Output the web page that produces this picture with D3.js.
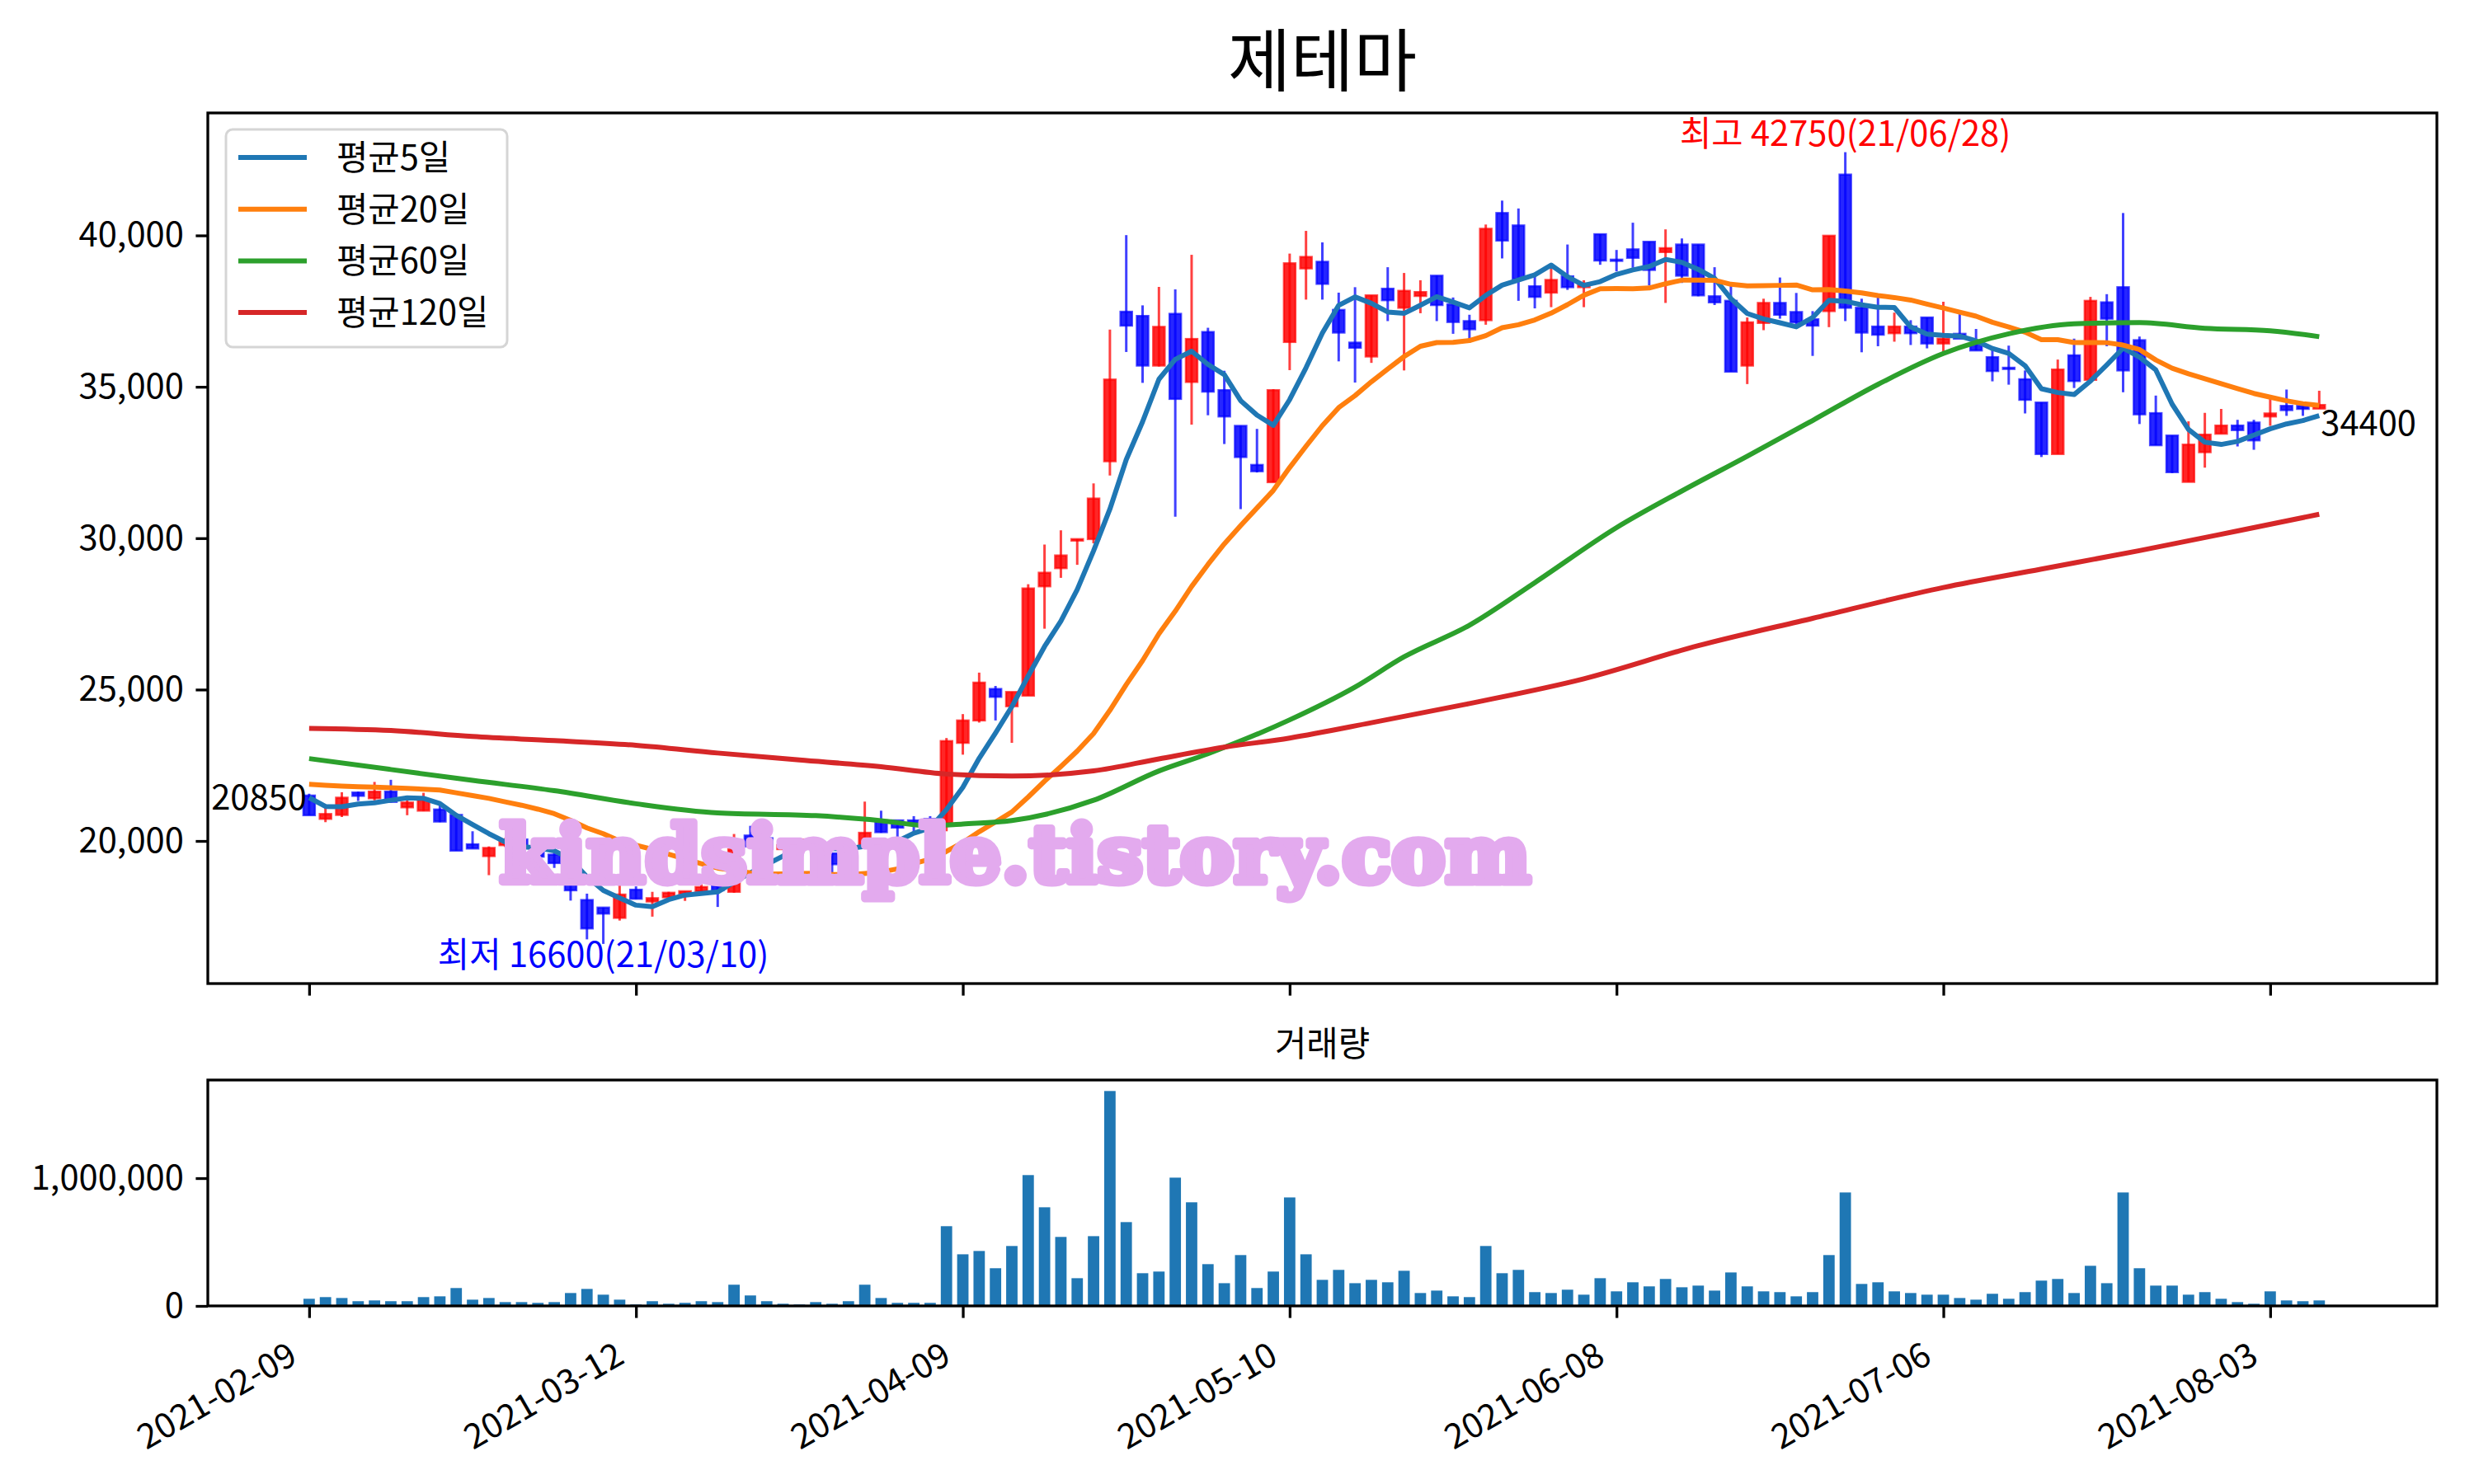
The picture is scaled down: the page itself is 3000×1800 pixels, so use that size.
<!DOCTYPE html>
<html>
<head>
<meta charset="utf-8">
<script src="https://cdn.jsdelivr.net/npm/d3@7"></script>
<style>
  body { margin: 0; background: #fff; }
  text { font-family: "Noto Sans CJK KR", "Noto Sans", sans-serif; }
</style>
</head>
<body>
<div id="chart"></div>
<script>

/****************************** data **********************************/

var opens = [21500,20730,20860,21600,21410,21630,21110,21000,21040,20860,
  19890,19500,19860,20050,19800,19550,18590,18050,17800,17460,
  18390,18000,18140,18260,18340,18520,18320,20180,20090,19730,
  19770,20050,19590,19300,19770,20680,20680,20680,20730,20590,
  23240,23980,25020,24450,24800,28410,29010,29920,29970,32540,
  37480,37340,35700,37410,35160,36810,34890,33710,32420,31850,
  36480,38910,39130,37540,36460,36000,38240,37610,38000,38670,
  37720,37170,37200,40740,40330,38320,38110,38650,38290,40040,
  39200,39540,39790,39450,39700,39700,37990,37840,35700,37110,
  37770,37470,37230,37500,42010,37610,36990,36770,36990,37290,
  36430,36750,36430,35980,35630,35250,34480,32780,36040,35230,
  37790,38290,36540,34130,33390,31860,32840,33450,33720,33820,
  34020,34370,34370,34280];

var highs = [21560,21090,21610,21630,21950,22020,21360,21590,21180,20890,
  20320,19820,20100,20270,19850,19590,18730,18260,17800,18680,
  18500,18320,18320,18340,18730,18520,20230,20500,20140,19900,
  20100,20090,19600,19750,21300,21000,20680,20820,20820,23400,
  24190,25560,25120,24920,28480,29790,30260,29970,31810,36890,
  40010,37690,38300,38220,39360,36950,35530,33710,33610,34920,
  39400,40150,39770,38110,38290,38020,38950,38760,38520,38670,
  37950,37380,40360,41150,40890,38650,38900,39700,38520,40040,
  39520,40420,39790,40200,39900,39700,38950,38340,37290,37910,
  38610,38100,37500,39990,42750,37910,37970,37450,37200,37290,
  37810,37400,36910,36230,36360,35540,34480,35900,36590,37970,
  38060,40740,36660,34710,33390,33860,34140,34270,33910,33910,
  34610,34910,34480,34870];

var lows = [20850,20620,20790,21320,21340,21270,20850,20990,20620,19680,
  19750,18870,19800,19820,19400,19110,18030,16750,16600,17370,
  18080,17500,18140,18020,18280,17820,18290,19800,19700,19700,
  19750,19850,18960,19250,19730,20270,20020,20320,20550,20320,
  22850,23910,23980,23240,24800,27010,28690,29120,29830,32070,
  36150,35130,35670,30710,33750,34060,33110,30960,32170,31850,
  35550,37880,37880,35840,35140,35790,37170,35540,37430,37170,
  36750,36450,37050,39240,37840,37590,37630,38200,37630,39030,
  38810,38930,38350,37770,38430,37990,37700,35500,35090,36870,
  37250,37070,36020,36970,37170,36140,36340,36490,36380,36270,
  36160,36590,36200,35180,35070,34120,32680,32780,34960,35200,
  36340,34820,33770,33070,32150,31860,32330,33450,33030,32920,
  33710,34040,34040,34280];

var closes = [20850,20890,21430,21490,21630,21290,21270,21360,20640,19680,
  19750,19770,20000,19860,19480,19270,18370,17110,17600,18230,
  18090,18110,18290,18340,18480,18370,19720,19820,19730,19860,
  20050,19860,19230,19700,20270,20290,20440,20590,20550,23300,
  23980,25230,24760,24920,28340,28860,29430,29970,31310,35240,
  37020,35700,36980,34600,36580,34840,34020,32680,32210,34890,
  39080,39290,38400,36790,36290,38020,37860,38170,38130,37700,
  37140,36900,40220,39830,38560,37970,38530,38290,38410,39170,
  39170,39260,38860,39580,38670,38020,37790,35500,37130,37770,
  37380,37130,37020,39990,37610,36790,36720,36990,36770,36430,
  36590,36590,36200,35520,35610,34570,32780,35570,35190,37840,
  37250,35540,34090,33070,32180,33090,33420,33720,33570,33230,
  34120,34230,34270,34400];

var volumes = [56000,69000,62000,37000,43000,37000,37000,69000,75000,140000,
  49000,62000,30000,30000,24000,30000,101000,133000,88000,49000,
  11000,37000,17000,24000,37000,30000,166000,82000,37000,17000,
  11000,30000,17000,37000,166000,62000,24000,24000,24000,624000,
  404000,430000,295000,469000,1024000,772000,540000,217000,546000,1682000,
  656000,256000,269000,1004000,811000,327000,178000,398000,140000,269000,
  849000,404000,204000,282000,178000,204000,185000,275000,101000,120000,
  75000,69000,469000,256000,282000,108000,101000,127000,88000,217000,
  114000,185000,153000,211000,146000,159000,120000,262000,153000,114000,
  108000,75000,108000,398000,888000,172000,185000,114000,101000,88000,
  88000,62000,49000,95000,56000,108000,198000,211000,101000,314000,
  178000,888000,295000,159000,159000,88000,108000,56000,30000,17000,
  114000,43000,37000,43000];

// the first days of the short averages need history before 2021-02-09
var ma5Lead = [21430, 21140, 21130, 21220];
var ma20Lead = [21870,21840,21810,21790,21775,21760,21740,21710,21680,21590,
  21500,21407,21290,21180,21050,20900,20680,20430,20240];

// long averages, read at sample days
var ma60Idx = [0,5,10,15,20,25,31,35,38,40,43,48,52,55,60,64,67,71,75,80,84,88,92,96,100,104,108,112,116,120,123];
var ma60Val = [22720,22360,22000,21660,21230,20926,20835,20670,20500,20560,20675,21344,22313,22882,24000,
  25084,26082,27126,28533,30348,31560,32708,33888,35080,36100,36750,37080,37120,36930,36850,36656];
var ma120Idx = [0,5,10,15,20,25,30,35,39,43,48,52,56,60,65,71,78,85,92,100,106,112,118,123];
var ma120Val = [23720,23649,23449,23313,23160,22904,22677,22451,22210,22142,22313,22712,23096,23400,
  23904,24539,25356,26450,27353,28370,28980,29590,30240,30790];

var tickIdx = [0, 20, 40, 60, 80, 100, 120];
var tickLabels = ["2021-02-09","2021-03-12","2021-04-09","2021-05-10","2021-06-08","2021-07-06","2021-08-03"];
var priceTicks = [20000, 25000, 30000, 35000, 40000];
var volTicks = [0, 1000000];

var seriesNames = ["평균5일", "평균20일", "평균60일", "평균120일"];
var seriesColors = ["#1f77b4", "#ff7f0e", "#2ca02c", "#d62728"];

var chartTitle = "제테마";
var volTitle = "거래량";
var hiIdx = 94, hiLabel = "최고 42750(21/06/28)";
var loIdx = 18, loLabel = "최저 16600(21/03/10)";
var watermark = "kindsimple.tistory.com";

/****************************** layout **********************************/

var W = 3000, H = 1800;
var fs = 41.7;
var pAx = { left: 252, right: 2955, top: 137, bottom: 1193 };
var vAx = { left: 252, right: 2955, top: 1310, bottom: 1584 };

var svg = d3.select("#chart").append("svg")
  .attr("width", W).attr("height", H)
  .style("background", "#fff");

var x = d3.scaleLinear().domain([-6.2, 130.2]).range([pAx.left, pAx.right]);
var yP = d3.scaleLinear().domain([15290, 44045]).range([pAx.bottom, pAx.top]);
var yV = d3.scaleLinear().domain([0, 1768000]).range([vAx.bottom, vAx.top]);

function rollingMean(vals, n, lead) {
  return vals.map(function(v, i) {
    if (i < n - 1) return lead[i];
    return d3.mean(vals.slice(i - n + 1, i + 1));
  });
}
var ma5 = rollingMean(closes, 5, ma5Lead);
var ma20 = rollingMean(closes, 20, ma20Lead);

/****************************** price panel **********************************/

var price = svg.append("g");

// candles
var candles = price.selectAll(".candle")
  .data(closes.map(function(c, i) {
    return { i: i, o: opens[i], h: highs[i], l: lows[i], c: c };
  }))
  .enter().append("g")
  .attr("class", "candle");

candles.append("line")
  .attr("x1", function(d) { return x(d.i); })
  .attr("x2", function(d) { return x(d.i); })
  .attr("y1", function(d) { return yP(d.h); })
  .attr("y2", function(d) { return yP(d.l); })
  .attr("stroke", function(d) { return d.c >= d.o ? "#ff0000" : "#0000ff"; })
  .attr("stroke-opacity", 0.75)
  .attr("stroke-width", 3);

candles.append("rect")
  .attr("x", function(d) { return x(d.i) - 7; })
  .attr("width", 14)
  .attr("y", function(d) { return yP(Math.max(d.o, d.c)); })
  .attr("height", function(d) { return Math.max(1.5, Math.abs(yP(d.o) - yP(d.c))); })
  .attr("fill", function(d) { return d.c >= d.o ? "#ff0000" : "#0000ff"; })
  .attr("fill-opacity", 0.85)
  .attr("stroke", function(d) { return d.c >= d.o ? "#ff0000" : "#0000ff"; })
  .attr("stroke-opacity", 0.7)
  .attr("stroke-width", 2.5);

// moving averages
var lineIdx = d3.line()
  .x(function(d) { return x(d[0]); })
  .y(function(d) { return yP(d[1]); });

var maSeries = [
  ma5.map(function(v, i) { return [i, v]; }),
  ma20.map(function(v, i) { return [i, v]; }),
  ma60Idx.map(function(t, k) { return [t, ma60Val[k]]; }),
  ma120Idx.map(function(t, k) { return [t, ma120Val[k]]; })
];

maSeries.forEach(function(s, k) {
  price.append("path")
    .datum(s)
    .attr("fill", "none")
    .attr("stroke", seriesColors[k])
    .attr("stroke-width", 6)
    .attr("stroke-linejoin", "round")
    .attr("d", k < 2 ? lineIdx.curve(d3.curveLinear)(s) : lineIdx.curve(d3.curveMonotoneX)(s));
});

// first / last close labels
price.append("text")
  .attr("x", x(0) - 3)
  .attr("y", yP(closes[0]) - 7)
  .attr("text-anchor", "end")
  .attr("font-size", fs)
  .text(closes[0]);

price.append("text")
  .attr("x", x(closes.length - 1) + 2)
  .attr("y", yP(closes[closes.length - 1]) + 37)
  .attr("text-anchor", "start")
  .attr("font-size", fs)
  .text(closes[closes.length - 1]);

// max / min notes
price.append("text")
  .attr("x", x(hiIdx))
  .attr("y", yP(highs[hiIdx]) - 8)
  .attr("text-anchor", "middle")
  .attr("font-size", fs)
  .attr("fill", "red")
  .text(hiLabel);

price.append("text")
  .attr("x", x(loIdx))
  .attr("y", yP(lows[loIdx]) + 28)
  .attr("text-anchor", "middle")
  .attr("font-size", fs)
  .attr("fill", "blue")
  .text(loLabel);

// axes
var yAxisP = d3.axisLeft(yP)
  .tickValues(priceTicks)
  .tickFormat(d3.format(","))
  .tickSize(14.6)
  .tickPadding(14.6);

var gy = svg.append("g")
  .attr("transform", "translate(" + pAx.left + ",0)")
  .call(yAxisP);

var xAxisP = d3.axisBottom(x)
  .tickValues(tickIdx)
  .tickFormat("")
  .tickSize(14.6);

var gx = svg.append("g")
  .attr("transform", "translate(0," + pAx.bottom + ")")
  .call(xAxisP);

/****************************** volume panel **********************************/

var vol = svg.append("g");

vol.selectAll(".bar")
  .data(volumes)
  .enter().append("rect")
  .attr("class", "bar")
  .attr("x", function(d, i) { return x(i) - 6.9; })
  .attr("width", 13.8)
  .attr("y", function(d) { return yV(d); })
  .attr("height", function(d) { return yV(0) - yV(d); })
  .attr("fill", "#1f77b4");

var yAxisV = d3.axisLeft(yV)
  .tickValues(volTicks)
  .tickFormat(d3.format(","))
  .tickSize(14.6)
  .tickPadding(14.6);

var gyv = svg.append("g")
  .attr("transform", "translate(" + vAx.left + ",0)")
  .call(yAxisV);

var xAxisV = d3.axisBottom(x)
  .tickValues(tickIdx)
  .tickFormat("")
  .tickSize(14.6);

var gxv = svg.append("g")
  .attr("transform", "translate(0," + vAx.bottom + ")")
  .call(xAxisV);

// rotated date labels
svg.selectAll(".dateLabel")
  .data(tickIdx)
  .enter().append("text")
  .attr("class", "dateLabel")
  .attr("text-anchor", "end")
  .attr("font-size", fs)
  .attr("transform", function(d) { return "translate(" + (x(d) - 12) + ",1652) rotate(-30)"; })
  .text(function(d, k) { return tickLabels[k]; });

// axis styling like matplotlib
[gy, gx, gyv, gxv].forEach(function(g) {
  g.select(".domain").remove();
  g.selectAll(".tick line").attr("stroke", "#000").attr("stroke-width", 3.3);
  g.selectAll(".tick text")
    .attr("font-size", fs)
    .attr("fill", "#000")
    .style("font-family", "'Noto Sans CJK KR', sans-serif");
});

[pAx, vAx].forEach(function(a) {
  svg.append("rect")
    .attr("x", a.left).attr("y", a.top)
    .attr("width", a.right - a.left).attr("height", a.bottom - a.top)
    .attr("fill", "none")
    .attr("stroke", "#000")
    .attr("stroke-width", 3.3);
});

/****************************** titles & legend **********************************/

svg.append("text")
  .attr("x", (pAx.left + pAx.right) / 2)
  .attr("y", 104)
  .attr("text-anchor", "middle")
  .attr("font-size", 83)
  .text(chartTitle);

svg.append("text")
  .attr("x", (vAx.left + vAx.right) / 2)
  .attr("y", 1281)
  .attr("text-anchor", "middle")
  .attr("font-size", fs)
  .text(volTitle);

var legend = svg.append("g");
legend.append("rect")
  .attr("x", 274).attr("y", 157)
  .attr("width", 341).attr("height", 264)
  .attr("rx", 8)
  .attr("fill", "#fff").attr("fill-opacity", 0.8)
  .attr("stroke", "#d5d5d5").attr("stroke-width", 3);

var items = legend.selectAll(".item")
  .data(seriesNames)
  .enter().append("g")
  .attr("transform", function(d, k) { return "translate(0," + (191 + k * 62.7) + ")"; });

items.append("line")
  .attr("x1", 289).attr("x2", 372)
  .attr("stroke", function(d, k) { return seriesColors[k]; })
  .attr("stroke-width", 6);

items.append("text")
  .attr("x", 408)
  .attr("y", 15)
  .attr("font-size", fs)
  .text(function(d) { return d; });

/****************************** watermark **********************************/

// heavy rounded serif look: bold serif plus a same-colour outline
svg.append("text")
  .attr("x", 606)
  .attr("y", 1070)
  .attr("font-size", 96)
  .attr("font-weight", "bold")
  .attr("textLength", 1250)
  .attr("lengthAdjust", "spacingAndGlyphs")
  .style("font-family", "'DejaVu Serif', serif")
  .attr("fill", "#e3aaee")
  .attr("stroke", "#e3aaee")
  .attr("stroke-width", 9)
  .attr("stroke-linejoin", "round")
  .text(watermark);

</script>
</body>
</html>
